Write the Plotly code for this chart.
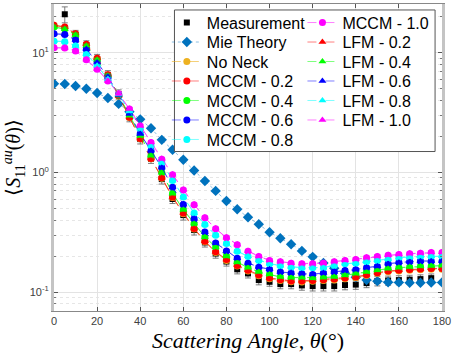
import plotly.graph_objects as go

angles = list(range(0, 185, 5))

meas_angles = list(range(5, 180, 5))
measurement = [21.0, 14.0, 11.5, 8.9, 6.5, 4.5, 2.9, 1.9, 1.3, 0.88, 0.60, 0.44, 0.33, 0.26, 0.21, 0.18, 0.155,
               0.1432, 0.126, 0.1219, 0.1166, 0.1166, 0.1137, 0.1122, 0.1122, 0.1122, 0.1145, 0.1155, 0.1189,
               0.1236, 0.1251, 0.126, 0.1272, 0.1284, 0.1308]
measurement_err = [3.2, 1.4, 1.1, 0.8, 0.6, 0.4, 0.25, 0.17, 0.11, 0.08, 0.05, 0.04, 0.03, 0.022, 0.018, 0.015, 0.013,
                   0.012, 0.011, 0.010, 0.010, 0.010, 0.010, 0.010, 0.010, 0.010, 0.010, 0.010, 0.010,
                   0.011, 0.011, 0.011, 0.011, 0.011, 0.011]

mie = [5.52, 5.48, 5.28, 5.01, 4.61, 4.19, 3.74, 3.22, 2.78, 2.34, 1.873, 1.546, 1.276, 1.039, 0.849, 0.701,
       0.577, 0.492, 0.422, 0.369, 0.316, 0.282, 0.251, 0.221, 0.197, 0.1754, 0.158, 0.144, 0.133, 0.126,
       0.1235, 0.121, 0.1205, 0.1195, 0.1198, 0.1202, 0.1205]

no_neck = [16.9, 16.3, 14.3, 11.7, 8.95, 6.5, 4.36, 2.88, 1.91, 1.30, 0.895, 0.617, 0.452, 0.336, 0.263, 0.214,
           0.184, 0.165, 0.150, 0.137, 0.129, 0.1250, 0.1218, 0.1216, 0.1232, 0.1250, 0.1265, 0.1290, 0.1316,
           0.1375, 0.1435, 0.1480, 0.1500, 0.1525, 0.1540, 0.1555, 0.1555]

mccm_02 = [17.0, 16.4, 14.4, 11.8, 9.0, 6.55, 4.38, 2.89, 1.92, 1.31, 0.903, 0.623, 0.458, 0.340, 0.266, 0.217,
           0.187, 0.167, 0.152, 0.139, 0.131, 0.1270, 0.1236, 0.1236, 0.1252, 0.1270, 0.1285, 0.1310, 0.1335,
           0.1393, 0.1453, 0.1498, 0.1519, 0.1543, 0.1557, 0.1573, 0.1573]
mccm_04 = [16.4, 15.8, 14.1, 11.4, 8.7, 6.4, 4.42, 2.99, 2.03, 1.386, 1.0, 0.668, 0.489, 0.374, 0.289, 0.2385,
           0.1995, 0.178, 0.1600, 0.1470, 0.1405, 0.1335, 0.1320, 0.1320, 0.1302, 0.1320, 0.1335, 0.1380, 0.1425,
           0.1470, 0.1518, 0.1568, 0.1598, 0.1617, 0.1639, 0.1649, 0.1660]
mccm_06 = [14.4, 14.2, 12.8, 10.7, 8.28, 6.3, 4.47, 3.10, 2.11, 1.52, 1.10, 0.754, 0.541, 0.411, 0.318, 0.2575,
           0.221, 0.192, 0.1745, 0.1617, 0.1547, 0.1469, 0.1441, 0.1425, 0.1406, 0.1441, 0.1469, 0.1518, 0.1538,
           0.1598, 0.1639, 0.1725, 0.1769, 0.1793, 0.1814, 0.1814, 0.1814]
mccm_08 = [12.5, 12.4, 11.4, 9.7, 7.77, 6.02, 4.51, 3.25, 2.33, 1.68, 1.21, 0.858, 0.623, 0.458, 0.3665, 0.2985,
           0.2545, 0.2196, 0.1985, 0.1839, 0.1725, 0.1660, 0.1617, 0.1598, 0.1598, 0.1598, 0.1670, 0.1725, 0.1745,
           0.1793, 0.1839, 0.1885, 0.1936, 0.1959, 0.1985, 0.1985, 0.1985]
mccm_10 = [11.0, 10.95, 10.35, 8.76, 7.28, 5.82, 4.54, 3.39, 2.45, 1.78, 1.29, 0.957, 0.714, 0.538, 0.4175, 0.338,
           0.2842, 0.2484, 0.2199, 0.1985, 0.1839, 0.1793, 0.1745, 0.1725, 0.1725, 0.1745, 0.1793, 0.1839, 0.1875,
           0.1936, 0.1985, 0.2036, 0.2063, 0.2090, 0.2115, 0.2143, 0.2143]

lfm_02 = [17.12, 16.47, 14.48, 11.82, 9.03, 6.56, 4.38, 2.89, 1.92, 1.31, 0.903, 0.623, 0.458, 0.340, 0.266, 0.217,
          0.187, 0.168, 0.1526, 0.140, 0.1316, 0.1276, 0.1242, 0.1242, 0.1259, 0.1276, 0.1291, 0.1316, 0.1341,
          0.140, 0.146, 0.1505, 0.1526, 0.155, 0.1564, 0.158, 0.158]
lfm_04 = [16.47, 15.85, 14.13, 11.44, 8.74, 6.43, 4.42, 2.99, 2.03, 1.386, 1.0, 0.668, 0.489, 0.374, 0.289, 0.2385,
          0.1995, 0.178, 0.1606, 0.1476, 0.1413, 0.1341, 0.1326, 0.1326, 0.1308, 0.1326, 0.1341, 0.1386, 0.1432,
          0.1476, 0.1526, 0.1576, 0.1606, 0.1625, 0.1647, 0.1657, 0.1668]
lfm_06 = [14.48, 14.26, 12.83, 10.74, 8.30, 6.31, 4.47, 3.10, 2.11, 1.525, 1.10, 0.754, 0.541, 0.411, 0.318, 0.2575,
          0.221, 0.192, 0.1754, 0.1625, 0.1555, 0.1476, 0.1448, 0.1432, 0.1413, 0.1448, 0.1476, 0.1526, 0.1546,
          0.1606, 0.1647, 0.1734, 0.1778, 0.1802, 0.1823, 0.1823, 0.1823]
lfm_08 = [12.59, 12.42, 11.44, 9.75, 7.79, 6.04, 4.51, 3.25, 2.33, 1.68, 1.21, 0.858, 0.623, 0.458, 0.3665, 0.2985,
          0.2545, 0.2196, 0.1995, 0.1848, 0.1734, 0.1668, 0.1625, 0.1606, 0.1606, 0.1606, 0.1679, 0.1734, 0.1754,
          0.1802, 0.1848, 0.1895, 0.1946, 0.1969, 0.1995, 0.1995, 0.1995]
lfm_10 = [11.07, 11.01, 10.39, 8.80, 7.31, 5.84, 4.55, 3.40, 2.46, 1.79, 1.30, 0.962, 0.718, 0.541, 0.4195, 0.340,
          0.2856, 0.2497, 0.221, 0.1995, 0.1848, 0.1802, 0.1754, 0.1734, 0.1734, 0.1754, 0.1802, 0.1848, 0.1884,
          0.1946, 0.1995, 0.2046, 0.2073, 0.2101, 0.2126, 0.2154, 0.2154]

y_tick_vals = [0.1, 1, 10]
y_tick_text = ["10<sup>-1</sup>", "10<sup>0</sup>", "10<sup>1</sup>"]
x_tick_vals = list(range(0, 200, 20))

# layout geometry (pixels)
W, H = 454, 357
ML, MR, MT, MB = 54, 8, 3, 46
PW, PH = W - ML - MR, H - MT - MB
ROW0, ROWSTEP = 21.7, 19.55
COL_TEXT = [209, 346]

fig = go.Figure()
legend_layouts = {}
legend_font = dict(family="Liberation Sans, Arial, sans-serif", size=16, color="black")
slot = [0]

def next_legend(col, row):
    slot[0] += 1
    key = "legend" if slot[0] == 1 else "legend%d" % slot[0]
    ypix = ROW0 + ROWSTEP * row
    legend_layouts[key] = dict(
        x=(COL_TEXT[col] - 41 - ML) / PW, xanchor='left',
        y=1 - (ypix - MT) / PH, yanchor='middle',
        bgcolor='rgba(0,0,0,0)', borderwidth=0, font=legend_font)
    return key

def add(name, y, color, line_color, symbol, dash, col, row, x=None, err=None, pct=None, size=7, mode='lines+markers'):
    ey = None
    if err is not None:
        ey = dict(type='data', array=err, visible=True, color=line_color, thickness=1, width=3)
    elif pct is not None:
        ey = dict(type='percent', value=pct, visible=True, color=line_color, thickness=1, width=3)
    fig.add_trace(go.Scatter(
        x=x if x is not None else angles, y=y, name=name, mode=mode,
        marker=dict(symbol=symbol, color=color, size=size, line=dict(width=0)),
        line=dict(color=line_color, width=1, dash=dash),
        error_y=ey, legend=next_legend(col, row)))

add("Measurement", measurement, "black", "rgba(110,110,110,0.9)", "square", "solid", 0, 0,
    x=meas_angles, err=measurement_err, size=6, mode='markers')
add("Mie Theory", mie, "#0072BD", "rgba(0,114,189,0.45)", "diamond", "dot", 0, 1, size=8)
add("No Neck", no_neck, "#EDB120", "rgba(237,177,32,0.6)", "circle", "dash", 0, 2, pct=3)
mccm = [("0.2", mccm_02, "255,0,0"), ("0.4", mccm_04, "0,255,0"), ("0.6", mccm_06, "0,0,255"),
        ("0.8", mccm_08, "0,255,255"), ("1.0", mccm_10, "255,0,255")]
for i, (lab, vals, rgb) in enumerate(mccm):
    col, row = (0, 3 + i) if i < 4 else (1, 0)
    add("MCCM - " + lab, vals, "rgb(" + rgb + ")", "rgba(" + rgb + ",0.5)", "circle", "dash", col, row, pct=3)
lfm = [("0.2", lfm_02, "255,0,0"), ("0.4", lfm_04, "0,255,0"), ("0.6", lfm_06, "0,0,255"),
       ("0.8", lfm_08, "0,255,255"), ("1.0", lfm_10, "255,0,255")]
for i, (lab, vals, rgb) in enumerate(lfm):
    add("LFM - " + lab, vals, "rgb(" + rgb + ")", "rgba(" + rgb + ",0.5)", "triangle-up", "dash", 1, 1 + i, pct=3)

fig.update_layout(
    width=W, height=H,
    margin=dict(l=ML, r=MR, t=MT, b=MB),
    paper_bgcolor="white", plot_bgcolor="white",
    showlegend=True,
    shapes=[dict(type='rect', xref='paper', yref='paper', x0=(175.7 - ML) / PW, x1=(439 - ML) / PW,
                 y0=1 - (151 - MT) / PH, y1=1 - (9 - MT) / PH, fillcolor='white',
                 line=dict(color='#555555', width=1), layer='above')],
    font=dict(family="Liberation Sans, Arial, sans-serif", size=11, color="#404040"),
    **legend_layouts,
)
fig.update_xaxes(
    range=[0, 180], tickvals=x_tick_vals, ticks='inside', ticklen=4, tickcolor='#555555',
    ticklabeloverflow='allow',
    showline=True, linecolor='#888888', linewidth=1, mirror='ticks',
    showgrid=True, gridcolor='#e3e3e3', gridwidth=1, zeroline=False,
    tickfont=dict(size=11, color='#404040'),
    title=dict(text="<i>Scattering Angle, θ</i>(°)",
               font=dict(family="Liberation Serif, Times New Roman, serif", size=22, color='black'),
               standoff=6),
)
fig.update_yaxes(
    type='log', range=[-1.158, 1.408], tickvals=y_tick_vals, ticktext=y_tick_text,
    ticks='inside', ticklen=4, tickcolor='#555555',
    showline=True, linecolor='#c4c4c4', linewidth=3, mirror='ticks',
    showgrid=True, gridcolor='#e3e3e3', gridwidth=1, zeroline=False,
    tickfont=dict(size=11, color='#404040'),
    minor=dict(dtick='D1', ticks='inside', ticklen=2, tickcolor='#777777', showgrid=True,
               gridcolor='#e6e6e6', griddash='dot'),
    title=dict(text="⟨<i>S</i><sub>11</sub><sup><i>au</i></sup>(<i>θ</i>)⟩",
               font=dict(family="Liberation Serif, Times New Roman, serif", size=20, color='black'),
               standoff=4),
)

fig.write_html("out.html")
